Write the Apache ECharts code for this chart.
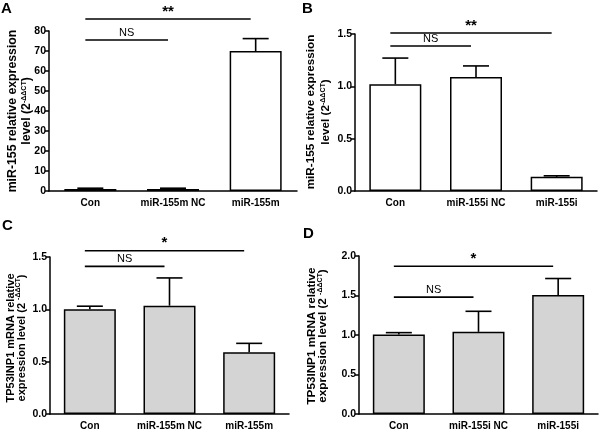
<!DOCTYPE html>
<html>
<head>
<meta charset="utf-8">
<script src="https://cdn.jsdelivr.net/npm/echarts@6/dist/echarts.min.js"></script>
<style>
html,body{margin:0;padding:0;background:#fff;}
#c{width:600px;height:430px;}
</style>
</head>
<body>
<div id="c"></div>
<script>
// ---- Data ----
const catsA = ['Con', 'miR-155m NC', 'miR-155m'];
const meanA = [1.0, 1.0, 70.0];
const errA  = [1.4, 1.4, 76.2];
const sigA  = [[0, 1, 75.5], [0, 2, 86]];
const sigTextA = ['NS', '**'];

const catsB = ['Con', 'miR-155i NC', 'miR-155i'];
const meanB = [1.02, 1.09, 0.135];
const errB  = [1.27, 1.195, 0.145];
const sigB  = [[0, 1, 1.385], [0, 2, 1.51]];
const sigTextB = ['NS', '**'];

const catsC = ['Con', 'miR-155m NC', 'miR-155m'];
const meanC = [1.0, 1.035, 0.59];
const errC  = [1.03, 1.30, 0.675];
const sigC  = [[0, 1, 1.41], [0, 2, 1.56]];
const sigTextC = ['NS', '*'];

const catsD = ['Con', 'miR-155i NC', 'miR-155i'];
const meanD = [1.005, 1.04, 1.505];
const errD  = [1.03, 1.30, 1.715];
const sigD  = [[0, 1, 1.48], [0, 2, 1.87]];
const sigTextD = ['NS', '*'];

const yTicksA = {min: 0, max: 80, interval: 10, dec: 0};
const yTicksB = {min: 0, max: 1.5, interval: 0.5, dec: 1};
const yTicksC = {min: 0, max: 1.5, interval: 0.5, dec: 1};
const yTicksD = {min: 0, max: 2.0, interval: 0.5, dec: 1};

const titleMiR = ['miR-155 relative expression', 'level (2', '-ΔΔCT', ')'];
const titleTP  = ['TP53INP1 mRNA relative', 'expression level (2 ', '-ΔΔCT', ')'];

// ---- Chart ----
const FONT = '"Liberation Sans", Arial, sans-serif';
const chart = echarts.init(document.getElementById('c'), null, {renderer: 'canvas'});

const panels = [
  {cats: catsA, mean: meanA, err: errA, sig: sigA, sigText: sigTextA, yt: yTicksA, fill: '#ffffff',
   grid: {left: 49, right: 303, top: 31, bottom: 239},
   title: titleMiR, tx: [13, 27], ty: 111, fs: 12.3},
  {cats: catsB, mean: meanB, err: errB, sig: sigB, sigText: sigTextB, yt: yTicksB, fill: '#ffffff',
   grid: {left: 355, right: 3, top: 34, bottom: 239},
   title: titleMiR, tx: [311, 326], ty: 112, fs: 11.7},
  {cats: catsC, mean: meanC, err: errC, sig: sigC, sigText: sigTextC, yt: yTicksC, fill: '#d4d4d4',
   grid: {left: 50, right: 311, top: 257, bottom: 16},
   title: titleTP, tx: [10.5, 21.5], ty: 338, fs: 11},
  {cats: catsD, mean: meanD, err: errD, sig: sigD, sigText: sigTextD, yt: yTicksD, fill: '#d4d4d4',
   grid: {left: 359, right: 2, top: 256, bottom: 16},
   title: titleTP, tx: [311.5, 323], ty: 336, fs: 11.7}
];

const grids = [], xAxes = [], yAxes = [], series = [], graphics = [];
panels.forEach((p, i) => {
  grids.push(Object.assign({containLabel: false, outerBoundsMode: 'none'}, p.grid));
  xAxes.push({
    type: 'category', gridIndex: i, data: p.cats,
    axisLine: {lineStyle: {color: '#000', width: 1.5}},
    axisTick: {alignWithLabel: true, length: 4, lineStyle: {color: '#000', width: 1.5}},
    axisLabel: {color: '#000', fontFamily: FONT, fontWeight: 'bold', fontSize: 10, margin: 7, interval: 0},
    splitLine: {show: false}
  });
  yAxes.push({
    type: 'value', gridIndex: i, min: p.yt.min, max: p.yt.max, interval: p.yt.interval,
    axisLine: {show: true, lineStyle: {color: '#000', width: 1.5}},
    axisTick: {show: true, length: 4, lineStyle: {color: '#000', width: 1.5}},
    axisLabel: {color: '#000', fontFamily: FONT, fontWeight: 'bold', fontSize: 10.5, margin: 3,
      formatter: v => v.toFixed(p.yt.dec)},
    splitLine: {show: false}
  });
  series.push({
    type: 'bar', xAxisIndex: i, yAxisIndex: i, data: p.mean, barWidth: 52,
    itemStyle: {color: p.fill, borderColor: '#000', borderWidth: 1.5},
    silent: true, animation: false, z: 2
  });
  const errData = p.mean.map((m, k) => [k, m, p.err[k]]);
  series.push({
    type: 'custom', xAxisIndex: i, yAxisIndex: i, data: errData, animation: false, z: 3,
    encode: {x: 0, y: [1, 2]},
    renderItem: (params, api) => {
      const x = api.value(0);
      const a = api.coord([x, api.value(1)]);
      const b = api.coord([x, api.value(2)]);
      const hw = 13;
      const st = {stroke: '#000', lineWidth: 1.6};
      return {type: 'group', children: [
        {type: 'line', shape: {x1: a[0], y1: a[1], x2: b[0], y2: b[1]}, style: st},
        {type: 'line', shape: {x1: b[0] - hw, y1: b[1], x2: b[0] + hw, y2: b[1]}, style: st}
      ]};
    }
  });
  series.push({
    type: 'custom', xAxisIndex: i, yAxisIndex: i, data: p.sig, animation: false, z: 4, clip: false,
    encode: {x: [0, 1], y: 2},
    renderItem: (params, api) => {
      const a = api.coord([api.value(0), api.value(2)]);
      const b = api.coord([api.value(1), api.value(2)]);
      const txt = p.sigText[params.dataIndex];
      const star = txt.indexOf('*') >= 0;
      const x1 = a[0] - 5, x2 = b[0] - 5;
      return {type: 'group', children: [
        {type: 'line', shape: {x1: x1, y1: a[1], x2: x2, y2: a[1]}, style: {stroke: '#000', lineWidth: 1.6}},
        {type: 'text', x: (x1 + x2) / 2, y: a[1] - (star ? 0 : 2),
          style: {text: txt, textAlign: 'center', textVerticalAlign: 'bottom',
            font: (star ? 'bold 15px ' : '11px ') + FONT, fill: '#000'}}
      ]};
    }
  });
  // y-axis titles (two centred rotated lines)
  graphics.push({
    type: 'text', x: p.tx[0], y: p.ty, rotation: Math.PI / 2,
    style: {text: p.title[0], textAlign: 'center', textVerticalAlign: 'middle',
      font: 'bold ' + p.fs + 'px ' + FONT, fill: '#000'}
  });
  graphics.push({
    type: 'text', x: p.tx[1], y: p.ty, rotation: Math.PI / 2,
    style: {
      text: '{t|' + p.title[1] + '}{s|' + p.title[2] + '}{t|' + p.title[3] + '}',
      textAlign: 'center', textVerticalAlign: 'middle',
      rich: {
        t: {fontFamily: FONT, fontWeight: 'bold', fontSize: p.fs, lineHeight: 13, fill: '#000'},
        s: {fontFamily: FONT, fontWeight: 'bold', fontSize: 7, lineHeight: 13, verticalAlign: 'top', fill: '#000'}
      }
    }
  });
});

const letter = (t, x, y) => ({type: 'text', left: x, top: y,
  style: {text: t, font: 'bold 15px ' + FONT, fill: '#000'}});
graphics.push(letter('A', 1, 1), letter('B', 302, 1), letter('C', 2, 218), letter('D', 303, 226));

chart.setOption({
  animation: false,
  backgroundColor: '#fff',
  grid: grids, xAxis: xAxes, yAxis: yAxes, series: series,
  graphic: graphics
});
</script>
</body>
</html>
